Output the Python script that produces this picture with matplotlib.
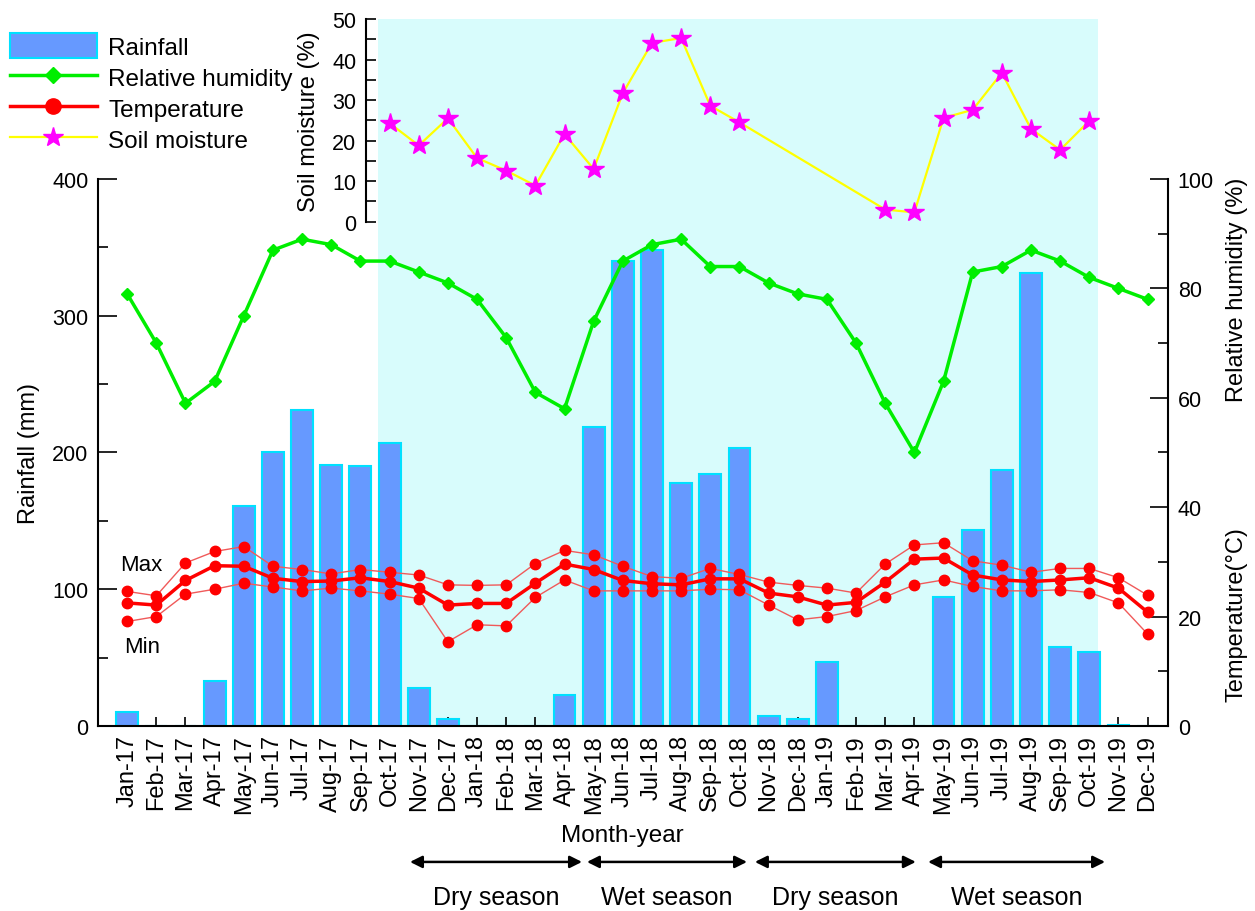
import matplotlib
matplotlib.use("Agg")
import matplotlib.pyplot as plt
import matplotlib.transforms as mtransforms
from matplotlib.patches import Patch
from matplotlib.lines import Line2D
from matplotlib.ticker import MultipleLocator

plt.rcParams['font.family'] = ['Liberation Sans', 'DejaVu Sans']

# ---- data ----
month_names = ['Jan', 'Feb', 'Mar', 'Apr', 'May', 'Jun',
               'Jul', 'Aug', 'Sep', 'Oct', 'Nov', 'Dec']
years = ['17', '18', '19']
month_labels = [f"{m}-{y}" for y in years for m in month_names]

rainfall = [10, 0, 0, 33, 161, 200, 231, 191, 190, 207, 28, 5,
            0, 0, 0, 23, 219, 340, 348, 178, 184, 203, 7, 5,
            47, 0, 0, 0, 94, 143, 187, 331, 58, 54, 1, 0]

humidity = [79, 70, 59, 63, 75, 87, 89, 88, 85, 85, 83, 81,
            78, 71, 61, 58, 74, 85, 88, 89, 84, 84, 81, 79,
            78, 70, 59, 50, 63, 83, 84, 87, 85, 82, 80, 78]

temp_max = [24.6, 23.8, 29.8, 31.9, 32.8, 29.2, 28.6, 27.8, 28.6, 28.1, 27.6, 25.8,
            25.7, 25.8, 29.7, 32.1, 31.3, 29.2, 27.3, 27.0, 28.8, 27.7, 26.3, 25.7,
            25.2, 24.3, 29.6, 33.1, 33.5, 30.2, 29.4, 28.1, 28.8, 28.8, 27.1, 23.9]
temp_mean = [22.5, 22.1, 26.6, 29.3, 29.2, 27.0, 26.4, 26.5, 27.1, 26.4, 25.2, 22.1,
             22.4, 22.4, 26.1, 29.6, 28.6, 26.6, 26.0, 25.8, 26.9, 26.9, 24.3, 23.6,
             22.1, 22.6, 26.3, 30.5, 30.7, 27.6, 26.7, 26.4, 26.7, 27.1, 25.2, 20.8]
temp_min = [19.1, 20.0, 24.1, 25.0, 26.1, 25.4, 24.7, 25.2, 24.7, 24.1, 23.3, 15.4,
            18.5, 18.3, 23.5, 26.7, 24.7, 24.7, 24.7, 24.7, 25.0, 24.9, 22.1, 19.4,
            20.0, 21.1, 23.6, 25.8, 26.7, 25.5, 24.7, 24.7, 24.9, 24.4, 22.5, 16.8]

# soil moisture was only sampled in some months (index into month_labels)
soil_idx = [9, 10, 11, 12, 13, 14, 15, 16, 17, 18, 19, 20, 21,
            26, 27, 28, 29, 30, 31, 32, 33]
soil_moisture = [24.3, 18.8, 25.5, 15.7, 12.6, 8.9, 21.6, 13.0, 31.7, 44.1, 45.3,
                 28.6, 24.5, 3.0, 2.3, 25.6, 27.6, 36.7, 22.9, 17.7, 24.9]

# sampling period (shaded) and season arrows, in month-index units
sampling_span = (8.62, 33.3)
season_names = ['Dry season', 'Wet season', 'Dry season', 'Wet season']
season_start = [9.7, 15.77, 21.53, 27.47]
season_end = [15.6, 21.26, 27.05, 33.54]

x = list(range(len(month_labels)))

BAR_FACE = '#6699ff'
BAR_EDGE = '#00e0ff'
SHADE = '#d8fcfc'
GREEN = '#00ee00'
RED = '#ff0000'
RED_THIN = '#f05a5a'

fig = plt.figure(figsize=(12.55, 9.12), dpi=100)

# main axes: rainfall
ax = fig.add_axes([0.0781, 0.2029, 0.8526, 0.5997])
ax.axvspan(*sampling_span, color=SHADE, lw=0, zorder=0)
ax.bar(x, rainfall, width=0.75, color=BAR_FACE, edgecolor=BAR_EDGE, linewidth=1.5, zorder=2)
ax.set_xlim(-1, 35.7)
ax.set_ylim(0, 400)
ax.yaxis.set_major_locator(MultipleLocator(100))
ax.yaxis.set_minor_locator(MultipleLocator(50))
ax.set_xticks(x)
ax.set_xticklabels(month_labels, rotation=90, fontsize=17)
ax.tick_params(axis='x', direction='in', length=6.5, width=1.2, pad=6)
ax.tick_params(axis='y', which='major', direction='in', length=13.5, width=1.2, labelsize=15.5, pad=7)
ax.tick_params(axis='y', which='minor', direction='in', length=7, width=1.2)
ax.spines['top'].set_visible(False)
ax.spines['right'].set_visible(False)
for s in ('left', 'bottom'):
    ax.spines[s].set_linewidth(1.5)
ax.set_ylabel('Rainfall (mm)', fontsize=17)
ax.yaxis.set_label_coords(-0.054, 0.5)
ax.text(0.49, -0.2, 'Month-year', transform=ax.transAxes, ha='center', va='center', fontsize=17.5)

# right axis: relative humidity and temperature share a 0-100 scale
ax2 = ax.twinx()
ax2.set_ylim(0, 100)
ax2.yaxis.set_major_locator(MultipleLocator(20))
ax2.yaxis.set_minor_locator(MultipleLocator(10))
ax2.tick_params(axis='y', which='major', direction='in', length=13, width=1.2, labelsize=15.5, pad=7)
ax2.tick_params(axis='y', which='minor', direction='in', length=7, width=1.2)
ax2.spines['top'].set_visible(False)
ax2.spines['left'].set_visible(False)
ax2.spines['bottom'].set_visible(False)
ax2.spines['right'].set_linewidth(1.5)

ax2.plot(x, humidity, color=GREEN, lw=2.5, marker='D', markersize=6, zorder=3)
ax2.plot(x, temp_max, color=RED_THIN, lw=1.0, marker='o', markersize=7.5,
         markerfacecolor=RED, markeredgecolor=RED, zorder=3)
ax2.plot(x, temp_min, color=RED_THIN, lw=1.0, marker='o', markersize=7.5,
         markerfacecolor=RED, markeredgecolor=RED, zorder=3)
ax2.plot(x, temp_mean, color=RED, lw=2.5, marker='o', markersize=7.5, zorder=4)
ax2.text(-0.25, 29.6, 'Max', ha='left', va='center', fontsize=16)
ax2.text(-0.12, 14.6, 'Min', ha='left', va='center', fontsize=16)

ax2.text(1.064, 0.8, 'Relative humidity (%)', transform=ax2.transAxes, rotation=90,
         ha='center', va='center', fontsize=17)
ax2.text(1.064, 0.205, 'Temperature(\u00b0C)', transform=ax2.transAxes, rotation=90,
         ha='center', va='center', fontsize=17)

# season arrows under the month labels
blend = mtransforms.blended_transform_factory(ax.transData, ax.transAxes)
for name, s, e in zip(season_names, season_start, season_end):
    ax.annotate('', xy=(e, -0.2486), xytext=(s, -0.2486), xycoords=blend, textcoords=blend,
                arrowprops=dict(arrowstyle='<|-|>', color='black', lw=1.8,
                                mutation_scale=18, shrinkA=0, shrinkB=0),
                annotation_clip=False)
    ax.text((s + e) / 2, -0.313, name, transform=blend, ha='center', va='center', fontsize=18)

# soil moisture panel on top
ax3 = fig.add_axes([0.2916, 0.7558, 0.6391, 0.2223])
ax3.set_facecolor('none')
ax3.axvspan(*sampling_span, color=SHADE, lw=0, zorder=0)
ax3.plot(soil_idx, soil_moisture, color='#ffff00', lw=1.6, marker='*', markersize=15,
         markerfacecolor='#ff00ff', markeredgecolor='#ff00ff', zorder=3)
ax3.set_xlim(8.19, 35.7)
ax3.set_ylim(0, 50)
ax3.yaxis.set_major_locator(MultipleLocator(10))
ax3.yaxis.set_minor_locator(MultipleLocator(5))
ax3.tick_params(axis='y', which='both', direction='in', length=7.5, width=1.2, labelsize=15.5, pad=7)
ax3.set_xticks([])
for s in ('top', 'right', 'bottom'):
    ax3.spines[s].set_visible(False)
ax3.spines['left'].set_linewidth(1.5)
ax3.set_ylabel('Soil moisture (%)', fontsize=17)
ax3.yaxis.set_label_coords(-0.057, 0.5)

# legend in the top-left corner
handles = [
    Patch(facecolor=BAR_FACE, edgecolor=BAR_EDGE, linewidth=1.5),
    Line2D([], [], color=GREEN, lw=2.5, marker='D', markersize=8),
    Line2D([], [], color=RED, lw=2.5, marker='o', markersize=11),
    Line2D([], [], color='#ffff00', lw=1.6, marker='*', markersize=15,
           markerfacecolor='#ff00ff', markeredgecolor='#ff00ff'),
]
labels = ['Rainfall', 'Relative humidity', 'Temperature', 'Soil moisture']
fig.legend(handles, labels, loc='upper left', bbox_to_anchor=(0.0, 0.973),
           frameon=False, fontsize=17.5, handlelength=3.6, handleheight=1.2,
           labelspacing=0.22, handletextpad=0.45, borderaxespad=0.0)

fig.savefig('out.png', dpi=100)
